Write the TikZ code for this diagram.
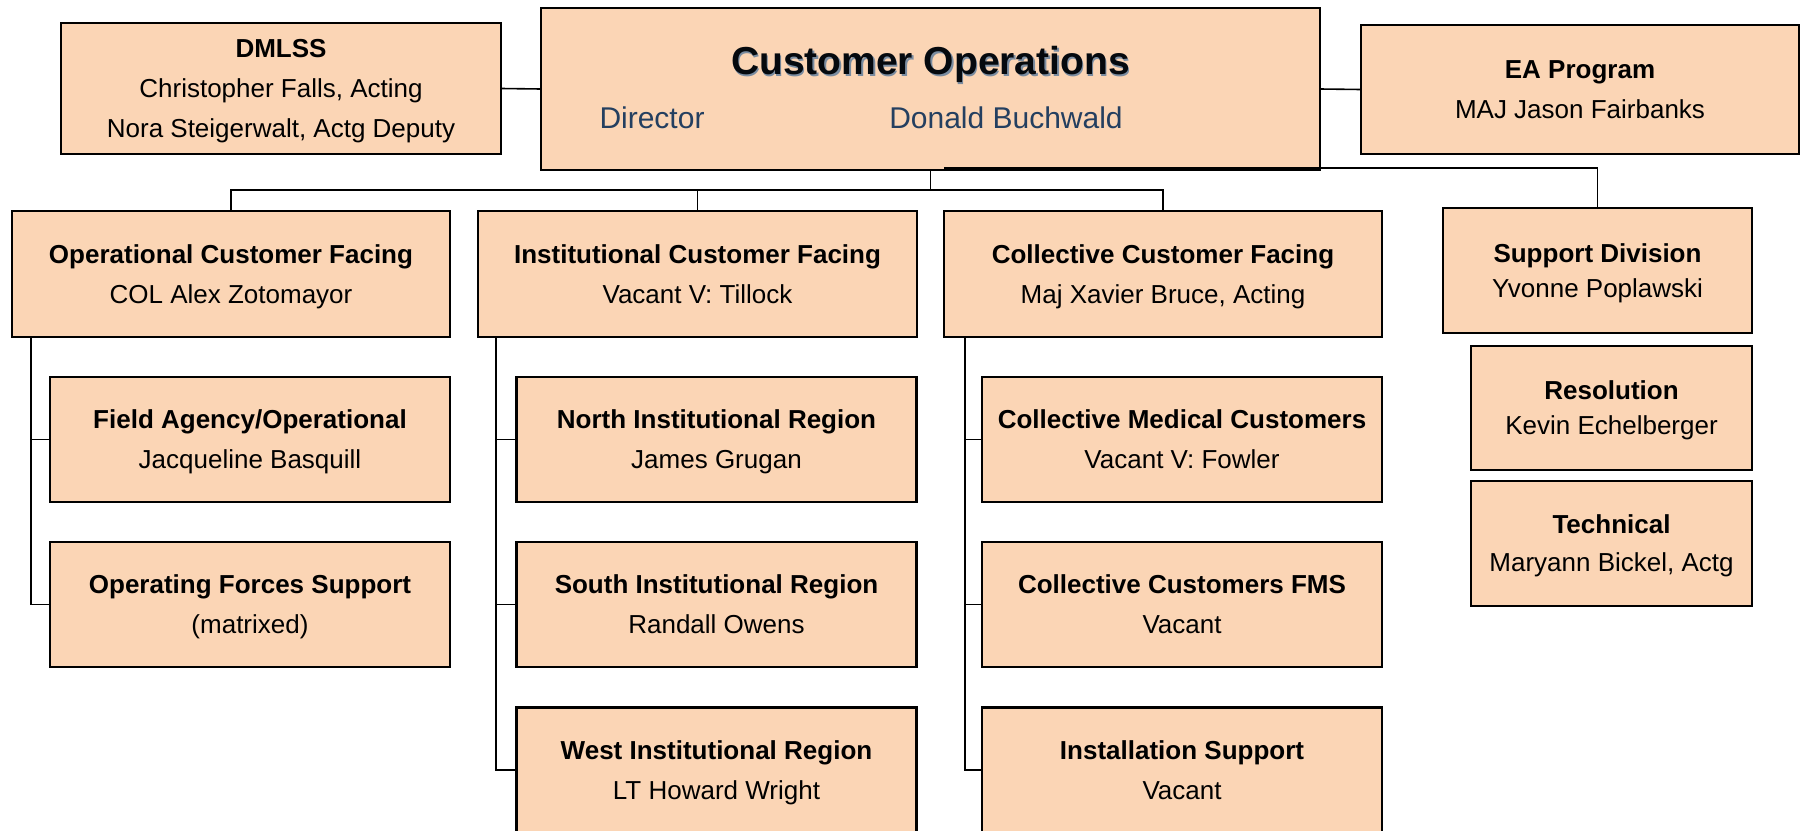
\documentclass[tikz,border=0pt]{standalone}
\usepackage{fontspec}
\setmainfont{Liberation Sans}
\definecolor{peach}{HTML}{FBD5B5}
\definecolor{navy}{HTML}{243F60}
\definecolor{inkshade}{HTML}{7A8CA0}
\tikzset{
  unit/.style = {draw=black, fill=peach, line width=2.5pt, align=center,
                 inner sep=0pt, outer sep=0pt, text depth=-2.5pt,
                 font=\fontsize{26}{40}\selectfont},
  subunit/.style = {unit, minimum width=400pt, minimum height=125pt},
  link/.style = {draw=black, line width=1.6pt}
}

\begin{document}
\begin{tikzpicture}[x=1pt, y=-1pt]
	\def \ca{250}    % column 1
	\def \cb{716.5}  % column 2
	\def \cc{1182}   % column 3
	\def \ra{439.5}  % row 1 of sub units
	\def \rb{604.5}
	\def \rc{770}
	\def \tx{19}     % offset of tree lines

	\useasboundingbox (0,0) rectangle (1806,830);
	\clip (0,0) rectangle (1806,830);

	% Top row
	\node[unit, minimum width=779pt, minimum height=162pt] (co) at (930.5,89) {};
	\node[font=\bfseries\fontsize{39}{40}\selectfont, text=inkshade] at (932,66) {Customer Operations};
	\node[font=\bfseries\fontsize{39}{40}\selectfont, text=black!85!navy] (cotitle) at (930.5,64.5) {Customer Operations};
	\node[font=\fontsize{30}{36}\selectfont, text=navy] (codir) at (652,118) {Director};
	\node[font=\fontsize{30}{36}\selectfont, text=navy] (coname) at (1006,118) {Donald Buchwald};

	\node[unit, minimum width=440pt, minimum height=131pt] (dmlss) at (281,88.5)
		{\textbf{DMLSS}\\Christopher Falls, Acting\\Nora Steigerwalt, Actg Deputy};
	\node[unit, minimum width=438pt, minimum height=129pt] (ea) at (1580,89.5)
		{\textbf{EA Program}\\MAJ Jason Fairbanks};

	% Divisions
	\node[unit, minimum width=438pt, minimum height=126pt] (ocf) at (231,274)
		{\textbf{Operational Customer Facing}\\COL Alex Zotomayor};
	\node[unit, minimum width=439pt, minimum height=126pt] (icf) at (697.5,274)
		{\textbf{Institutional Customer Facing}\\Vacant V: Tillock};
	\node[unit, minimum width=438pt, minimum height=126pt] (ccf) at (1163,274)
		{\textbf{Collective Customer Facing}\\Maj Xavier Bruce, Acting};

	% Support side
	\node[unit, minimum width=309pt, minimum height=125pt, font=\fontsize{26}{35}\selectfont] (sup) at (1597.5,270.5)
		{\textbf{Support Division}\\Yvonne Poplawski};
	\node[unit, minimum width=281pt, minimum height=124pt, font=\fontsize{26}{35}\selectfont] (res) at (1611.5,408)
		{\textbf{Resolution}\\Kevin Echelberger};
	\node[unit, minimum width=281pt, minimum height=125pt, font=\fontsize{26}{38}\selectfont] (tech) at (1611.5,543.5)
		{\textbf{Technical}\\Maryann Bickel, Actg};

	% Sub units
	\node[subunit] (fao) at (\ca,\ra) {\textbf{Field Agency/Operational}\\Jacqueline Basquill};
	\node[subunit] (ofs) at (\ca,\rb) {\textbf{Operating Forces Support}\\(matrixed)};

	\node[subunit] (nir) at (\cb,\ra) {\textbf{North Institutional Region}\\James Grugan};
	\node[subunit] (sir) at (\cb,\rb) {\textbf{South Institutional Region}\\Randall Owens};
	\node[subunit] (wir) at (\cb,\rc) {\textbf{West Institutional Region}\\LT Howard Wright};

	\node[subunit] (cmc) at (\cc,\ra) {\textbf{Collective Medical Customers}\\Vacant V: Fowler};
	\node[subunit] (fms) at (\cc,\rb) {\textbf{Collective Customers FMS}\\Vacant};
	\node[subunit] (ins) at (\cc,\rc) {\textbf{Installation Support}\\Vacant};

	% Connectors
	\coordinate (bus) at (930.5,190);
	\coordinate (supstart) at (944,168);
	\coordinate (ocfroot) at ([xshift=\tx pt]ocf.south west);
	\coordinate (icfroot) at ([xshift=18pt]icf.south west);
	\coordinate (ccfroot) at ([xshift=21pt]ccf.south west);

	\draw[link] (dmlss.east) -- (co.west);
	\draw[link] (co.east) -- (ea.west);
	\draw[link] (co.south) -- (bus);
	\draw[link] (ocf.north) |- (bus) -| (ccf.north);
	\draw[link] (icf.north) -- (icf.north |- bus);
	\draw[link] (supstart) -| (sup.north);

	\draw[link] (ocfroot) |- (fao.west);
	\draw[link] (ocfroot) |- (ofs.west);
	\draw[link] (icfroot) |- (nir.west);
	\draw[link] (icfroot) |- (sir.west);
	\draw[link] (icfroot) |- (wir.west);
	\draw[link] (ccfroot) |- (cmc.west);
	\draw[link] (ccfroot) |- (fms.west);
	\draw[link] (ccfroot) |- (ins.west);
\end{tikzpicture}
\end{document}
